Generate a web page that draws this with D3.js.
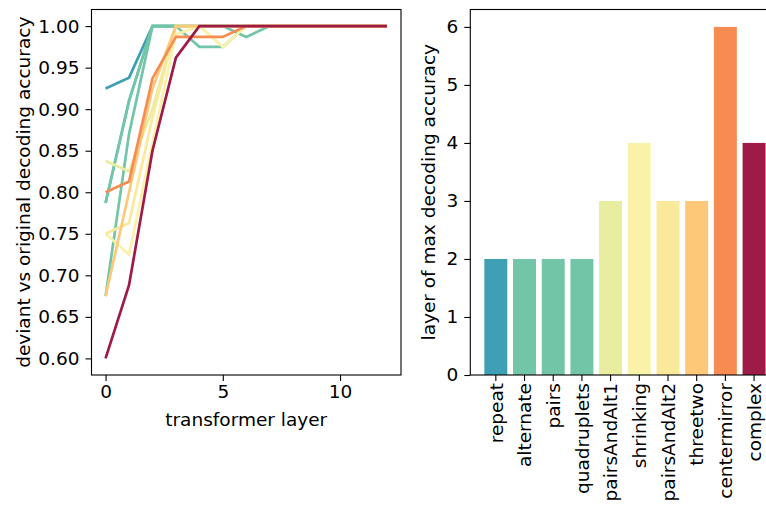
<!DOCTYPE html>
<html>
<head>
<meta charset="utf-8">
<script src="https://cdn.jsdelivr.net/npm/d3@7"></script>
<style>
  body { margin: 0; background: #fff; }
  svg text { font-family: "DejaVu Sans", sans-serif; fill: #000; }
</style>
</head>
<body>
<div id="chart"></div>
<script>
// layers on the x axis of the left panel
const layers = [0, 1, 2, 3, 4, 5, 6, 7, 8, 9, 10, 11, 12];

const patterns = ["repeat", "alternate", "pairs", "quadruplets", "pairsAndAlt1",
  "shrinking", "pairsAndAlt2", "threetwo", "centermirror", "complex"];

const patternColors = ["#3f9fb5", "#72c5a6", "#72c5a6", "#72c5a6", "#e9eda0",
  "#fbf2a9", "#fae89b", "#fdc878", "#f68c52", "#9e1b47"];

// deviant vs original decoding accuracy per layer
const repeatAcc = [0.925, 0.938, 1, 1, 1, 1, 1, 1, 1, 1, 1, 1, 1];
const alternateAcc = [0.787, 0.91, 1, 1, 1, 1, 1, 1, 1, 1, 1, 1, 1];
const pairsAcc = [0.675, 0.87, 1, 1, 0.975, 0.975, 1, 1, 1, 1, 1, 1, 1];
const quadrupletsAcc = [0.787, 0.91, 1, 1, 1, 1, 0.987, 1, 1, 1, 1, 1, 1];
const pairsAndAlt1Acc = [0.838, 0.825, 0.9, 1, 1, 1, 1, 1, 1, 1, 1, 1, 1];
const shrinkingAcc = [0.75, 0.725, 0.86, 0.99, 1, 0.975, 1, 1, 1, 1, 1, 1, 1];
const pairsAndAlt2Acc = [0.75, 0.763, 0.89, 1, 1, 1, 1, 1, 1, 1, 1, 1, 1];
const threetwoAcc = [0.675, 0.8, 0.925, 1, 1, 1, 1, 1, 1, 1, 1, 1, 1];
const centermirrorAcc = [0.8, 0.813, 0.937, 0.987, 0.987, 0.987, 1, 1, 1, 1, 1, 1, 1];
const complexAcc = [0.6, 0.688, 0.85, 0.962, 1, 1, 1, 1, 1, 1, 1, 1, 1];

// layer of max decoding accuracy per pattern
const maxLayer = [2, 2, 2, 2, 3, 4, 3, 3, 6, 4];

const accTicks = [0.6, 0.65, 0.7, 0.75, 0.8, 0.85, 0.9, 0.95, 1.0];
const layerTicks = [0, 5, 10];
const maxTicks = [0, 1, 2, 3, 4, 5, 6];

const fontSize = "18.5px";

document.addEventListener("DOMContentLoaded", setup);

function setup() {
  const svg = d3
    .select("#chart")
    .append("svg")
    .attr("width", 766)
    .attr("height", 506);
  svg.append("rect").attr("width", 766).attr("height", 506).attr("fill", "#fff");

  drawLines(svg);
  drawBars(svg);
}

function styleAxis(g) {
  g.selectAll("path.domain").remove();
  g.selectAll("line").attr("stroke", "#000").attr("stroke-width", 1.1);
  g.selectAll("text").attr("font-size", fontSize).attr("fill", "#000");
}

function drawLines(svg) {
  const left = 91.5, right = 401, top = 9.5, bottom = 375;
  const x = d3.scaleLinear().domain([-0.6, 12.6]).range([left, right]);
  const y = d3.scaleLinear().domain([0.58, 1.02]).range([bottom, top]);

  const series = [repeatAcc, alternateAcc, pairsAcc, quadrupletsAcc, pairsAndAlt1Acc,
    shrinkingAcc, pairsAndAlt2Acc, threetwoAcc, centermirrorAcc, complexAcc];

  const line = d3
    .line()
    .x((d, i) => x(layers[i]))
    .y((d) => y(d));

  svg
    .append("g")
    .selectAll("path")
    .data(series)
    .enter()
    .append("path")
    .attr("d", line)
    .attr("fill", "none")
    .attr("stroke", (d, i) => patternColors[i])
    .attr("stroke-width", 2.7)
    .attr("stroke-linejoin", "miter");

  svg
    .append("rect")
    .attr("x", left)
    .attr("y", top)
    .attr("width", right - left)
    .attr("height", bottom - top)
    .attr("fill", "none")
    .attr("stroke", "#000")
    .attr("stroke-width", 1.1);

  svg
    .append("g")
    .attr("transform", "translate(0," + bottom + ")")
    .call(d3.axisBottom(x).tickValues(layerTicks).tickFormat(d3.format("d")).tickSize(6).tickPadding(4))
    .call(styleAxis);

  svg
    .append("g")
    .attr("transform", "translate(" + left + ",0)")
    .call(d3.axisLeft(y).tickValues(accTicks).tickFormat(d3.format(".2f")).tickSize(6).tickPadding(6))
    .call(styleAxis);

  svg
    .append("text")
    .attr("x", (left + right) / 2)
    .attr("y", 426)
    .attr("text-anchor", "middle")
    .attr("font-size", fontSize)
    .text("transformer layer");

  svg
    .append("text")
    .attr("transform", "translate(30," + (top + bottom) / 2 + ") rotate(-90)")
    .attr("text-anchor", "middle")
    .attr("font-size", fontSize)
    .text("deviant vs original decoding accuracy");
}

function drawBars(svg) {
  const left = 470.3, right = 779.6, top = 9.5, bottom = 375;
  const x = d3
    .scaleBand()
    .domain(patterns)
    .range([left, right])
    .paddingInner(0.2)
    .paddingOuter(0.49);
  const y = d3.scaleLinear().domain([0, 6.3]).range([bottom, top]);

  svg
    .append("g")
    .selectAll("rect")
    .data(maxLayer)
    .enter()
    .append("rect")
    .attr("x", (d, i) => x(patterns[i]))
    .attr("y", (d) => y(d))
    .attr("width", x.bandwidth())
    .attr("height", (d) => y(0) - y(d))
    .attr("fill", (d, i) => patternColors[i]);

  svg
    .append("rect")
    .attr("x", left)
    .attr("y", top)
    .attr("width", right - left)
    .attr("height", bottom - top)
    .attr("fill", "none")
    .attr("stroke", "#000")
    .attr("stroke-width", 1.1);

  svg
    .append("g")
    .attr("transform", "translate(" + left + ",0)")
    .call(d3.axisLeft(y).tickValues(maxTicks).tickFormat(d3.format("d")).tickSize(6).tickPadding(6))
    .call(styleAxis);

  const xAxis = svg
    .append("g")
    .attr("transform", "translate(0," + bottom + ")")
    .call(d3.axisBottom(x).tickSize(6).tickPadding(5))
    .call(styleAxis);

  xAxis
    .selectAll("text")
    .attr("transform", "rotate(-90)")
    .attr("text-anchor", "end")
    .attr("x", -8)
    .attr("y", 0)
    .attr("dy", "0.36em");

  svg
    .append("text")
    .attr("transform", "translate(435," + (top + bottom) / 2 + ") rotate(-90)")
    .attr("text-anchor", "middle")
    .attr("font-size", fontSize)
    .text("layer of max decoding accuracy");
}
</script>
</body>
</html>
